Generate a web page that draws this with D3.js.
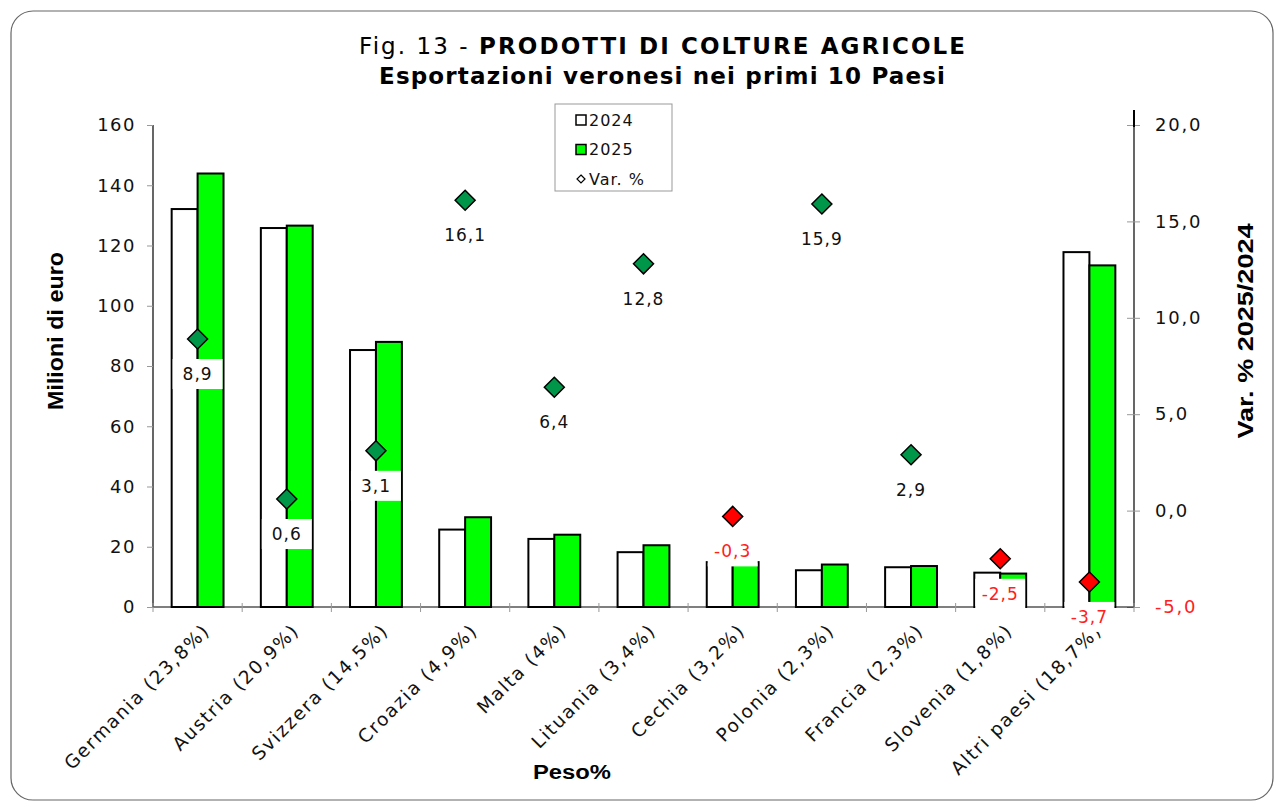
<!DOCTYPE html>
<html>
<head>
<meta charset="utf-8">
<script src="https://cdn.jsdelivr.net/npm/d3@7"></script>
<style>
body{margin:0;background:#fff;}
svg text{font-family:"DejaVu Sans",Verdana,sans-serif;}
svg text.ttl{font-family:"Liberation Sans",Arial,sans-serif;font-weight:bold;}
</style>
</head>
<body>
<div id="chart"></div>
<script>
// data
var paesi=["Germania (23,8%)","Austria (20,9%)","Svizzera (14,5%)","Croazia (4,9%)","Malta (4%)","Lituania (3,4%)","Cechia (3,2%)","Polonia (2,3%)","Francia (2,3%)","Slovenia (1,8%)","Altri paesi (18,7%)"];
var val2024=[132.1,125.8,85.3,25.7,22.6,18.2,14.9,12.2,13.2,11.4,117.8];
var val2025=[143.9,126.6,88.0,29.8,24.0,20.5,14.9,14.1,13.6,11.1,113.4];
var varPerc=[8.9,0.6,3.1,16.1,6.4,12.8,-0.3,15.9,2.9,-2.5,-3.7];
var leftTicks=[0,20,40,60,80,100,120,140,160];
var rightTicks=[-5,0,5,10,15,20];

var W=1276,H=803;
var plot={left:153,right:1134,top:125,bottom:607};

var svg=d3.select("#chart").append("svg")
    .attr("width",W).attr("height",H);

// cornice
svg.append("rect")
    .attr("x",11).attr("y",11).attr("width",1262).attr("height",789)
    .attr("rx",22).attr("ry",22)
    .attr("fill","#fff").attr("stroke","#666").attr("stroke-width",1.2);

var x=d3.scaleBand().domain(paesi).range([plot.left,plot.right]).padding(0);
var x1=d3.scaleBand().domain(["a","b"]).range([0,x.bandwidth()]).paddingInner(0).paddingOuter(0.72);
var yL=d3.scaleLinear().domain([0,160]).range([plot.bottom,plot.top]);
var yR=d3.scaleLinear().domain([-5,20]).range([plot.bottom,plot.top]);

var fmt=function(v){return d3.format(".1f")(v).replace(".",",").replace("−","-");};

// title
var t=svg.append("text").attr("x",662).attr("y",54).attr("text-anchor","middle")
    .attr("textLength",606).attr("lengthAdjust","spacing")
    .style("font-size","23px").attr("fill","#000");
t.append("tspan").text("Fig. 13 - ");
t.append("tspan").style("font-weight","bold").text("PRODOTTI DI COLTURE AGRICOLE");
svg.append("text").attr("x",662).attr("y",84).attr("text-anchor","middle")
    .attr("textLength",566).attr("lengthAdjust","spacing")
    .style("font-size","23px").style("font-weight","bold").text("Esportazioni veronesi nei primi 10 Paesi");

// left axis
var gL=svg.append("g").attr("transform","translate("+plot.left+",0)")
    .call(d3.axisLeft(yL).tickValues(leftTicks).tickSize(6).tickPadding(11).tickFormat(d3.format("d")));
gL.select(".domain").attr("stroke","#000").attr("stroke-width",1.2).attr("d","M0,"+plot.top+"V"+plot.bottom);
gL.selectAll(".tick line").attr("stroke","#999");
gL.selectAll(".tick text").style("font-size","18px").style("letter-spacing","1.5px").attr("fill","#111");

// right axis
var gR=svg.append("g").attr("transform","translate("+plot.right+",0)")
    .call(d3.axisRight(yR).tickValues(rightTicks).tickSize(6).tickPadding(15).tickFormat(fmt));
gR.select(".domain").attr("stroke","#000").attr("stroke-width",1.2).attr("d","M0,110V"+plot.bottom);
gR.selectAll(".tick line").attr("x1",-7).attr("stroke","#999");
gR.selectAll(".tick text").style("font-size","18px").style("letter-spacing","1.8px")
    .attr("fill",function(d){return d<0?"#ff2020":"#111";});
svg.append("line").attr("x1",plot.right).attr("x2",plot.right).attr("y1",110).attr("y2",127)
    .attr("stroke","#000").attr("stroke-width",2);

// bars
var grp=svg.selectAll(".grp").data(paesi).enter().append("g")
    .attr("transform",function(d){return "translate("+x(d)+",0)";});
grp.append("rect")
    .attr("x",x1("a")).attr("width",x1.bandwidth())
    .attr("y",function(d,i){return yL(val2024[i]);})
    .attr("height",function(d,i){return yL(0)-yL(val2024[i]);})
    .attr("fill","#fff").attr("stroke","#000").attr("stroke-width",2);
grp.append("rect")
    .attr("x",x1("b")).attr("width",x1.bandwidth())
    .attr("y",function(d,i){return yL(val2025[i]);})
    .attr("height",function(d,i){return yL(0)-yL(val2025[i]);})
    .attr("fill","#00ff00").attr("stroke","#000").attr("stroke-width",2);

// x axis baseline + ticks
svg.append("line").attr("x1",plot.left).attr("x2",plot.right).attr("y1",plot.bottom).attr("y2",plot.bottom)
    .attr("stroke","#000").attr("stroke-width",1.2);
svg.selectAll(".xt").data(d3.range(paesi.length+1)).enter().append("line")
    .attr("x1",function(i){return plot.left+i*x.bandwidth();})
    .attr("x2",function(i){return plot.left+i*x.bandwidth();})
    .attr("y1",plot.bottom-4).attr("y2",plot.bottom+5).attr("stroke","#999");

// x labels
svg.selectAll(".xl").data(paesi).enter().append("text")
    .attr("transform",function(d){return "translate("+(x(d)+x.bandwidth()/2+9)+",627) rotate(-45)";})
    .attr("text-anchor","end").attr("dy","0.35em")
    .style("font-size","18.5px").style("letter-spacing","1.7px")
    .attr("fill","#111").text(function(d){return d;});

// var% diamonds
var dm=svg.selectAll(".dm").data(varPerc).enter().append("g")
    .attr("transform",function(d,i){return "translate("+(x(paesi[i])+x.bandwidth()/2)+","+yR(d)+")";});
dm.append("rect").attr("x",-25).attr("y",20).attr("width",50).attr("height",30)
    .attr("fill","#fff");
dm.append("text").attr("y",35).attr("dy","0.35em").attr("text-anchor","middle")
    .style("font-size","17px").style("letter-spacing","1px")
    .attr("fill",function(d){return d<0?"#ff2020":"#111";})
    .text(function(d){return fmt(d);});
dm.append("path").attr("d","M0,-10L10,0L0,10L-10,0Z")
    .attr("fill",function(d){return d<0?"#ff0000":"#00964a";})
    .attr("stroke","#000").attr("stroke-width",1.5);

// axis titles
svg.append("text").attr("class","ttl").attr("transform","translate(63,331) rotate(-90)").attr("text-anchor","middle")
    .attr("textLength",158).attr("lengthAdjust","spacingAndGlyphs")
    .style("font-size","22px").text("Milioni di euro");
svg.append("text").attr("class","ttl").attr("transform","translate(1253,331) rotate(-90)").attr("text-anchor","middle")
    .attr("textLength",215).attr("lengthAdjust","spacingAndGlyphs")
    .style("font-size","22px").text("Var. % 2025/2024");
svg.append("text").attr("class","ttl").attr("x",572).attr("y",779).attr("text-anchor","middle")
    .attr("textLength",78).attr("lengthAdjust","spacingAndGlyphs")
    .style("font-size","20px").text("Peso%");

// legend
var lg=svg.append("g").attr("transform","translate(555,104)");
lg.append("rect").attr("width",117).attr("height",87).attr("fill","#fff").attr("stroke","#999");
var lgItems=["2024","2025","Var. %"];
lgItems.forEach(function(s,i){
    var yy=16+i*29.5;
    if(i<2){
        lg.append("rect").attr("x",21).attr("y",yy-5).attr("width",10).attr("height",10)
            .attr("fill",i==0?"#fff":"#00ff00").attr("stroke","#000").attr("stroke-width",1.5);
    } else {
        lg.append("path").attr("d","M26,"+(yy-4)+"L30,"+yy+"L26,"+(yy+4)+"L22,"+yy+"Z")
            .attr("fill","#fff").attr("stroke","#000").attr("stroke-width",1.2);
    }
    lg.append("text").attr("x",34).attr("y",yy).attr("dy","0.35em")
        .style("font-size","16px").style("letter-spacing","1px").attr("fill","#111").text(s);
});
</script>
</body>
</html>
